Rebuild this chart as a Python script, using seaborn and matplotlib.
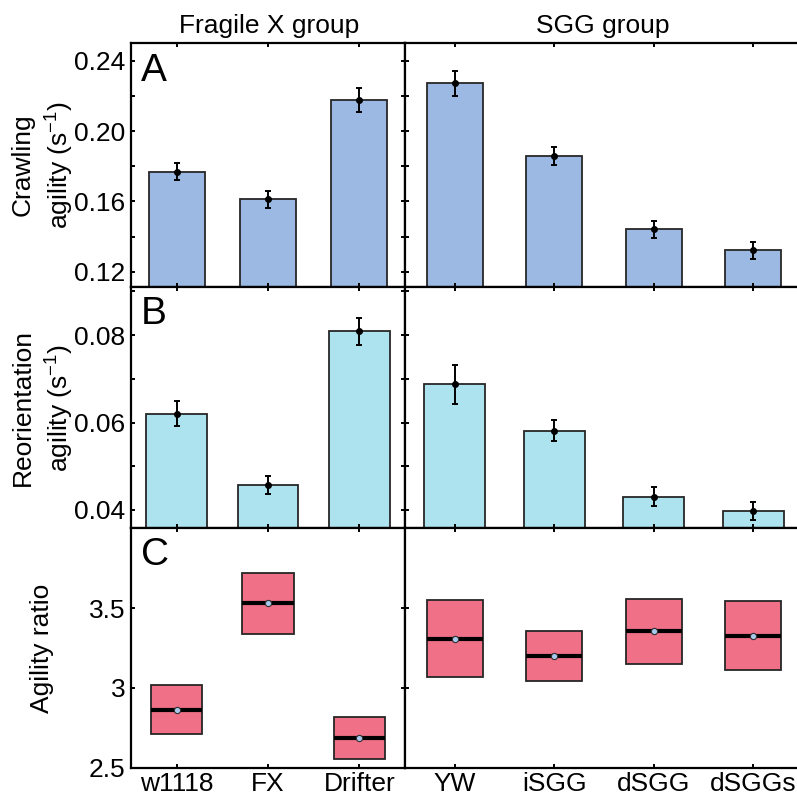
import matplotlib
matplotlib.use("Agg")
import matplotlib.pyplot as plt
import seaborn as sns
from matplotlib.ticker import MultipleLocator, FixedLocator, FormatStrFormatter, FuncFormatter

# ------------------------ data ------------------------
fx_groups = ["w1118", "FX", "Drifter"]
sgg_groups = ["YW", "iSGG", "dSGG", "dSGGs"]

crawl_fx = [0.1770, 0.1612, 0.2177]
crawl_fx_err = [0.0050, 0.0050, 0.0068]
crawl_sgg = [0.2272, 0.1858, 0.1441, 0.1322]
crawl_sgg_err = [0.0072, 0.0053, 0.0050, 0.0047]

reor_fx = [0.0620, 0.0457, 0.0809]
reor_fx_err = [0.0029, 0.0020, 0.0031]
reor_sgg = [0.0687, 0.0581, 0.0430, 0.0398]
reor_sgg_err = [0.0045, 0.0024, 0.0022, 0.0021]

ratio_fx_q1 = [2.709, 3.337, 2.557]
ratio_fx_med = [2.862, 3.531, 2.684]
ratio_fx_q3 = [3.016, 3.723, 2.816]
ratio_sgg_q1 = [3.069, 3.041, 3.148, 3.111]
ratio_sgg_med = [3.307, 3.201, 3.356, 3.327]
ratio_sgg_q3 = [3.548, 3.358, 3.560, 3.546]

# ------------------------ style ------------------------
plt.rcParams["font.family"] = ["Liberation Sans", "DejaVu Sans"]
FS = 19
COL_A = "#9bb9e3"
COL_B = "#ade2ef"
COL_C = "#f07087"
EDGE = "#262626"

fig = plt.figure(figsize=(7.97, 7.99), dpi=100)

L, M = 131 / 797, 405 / 797
WL = M - L
WR = (803 - 405) / 797
rows = [43, 287, 528.3, 767.7]
H = 799


def make_ax(col, row):
    top = 1 - rows[row] / H
    bot = 1 - rows[row + 1] / H
    if col == 0:
        return fig.add_axes([L, bot, WL, top - bot])
    return fig.add_axes([M, bot, WR, top - bot])


def style(ax, n, right_col, show_x):
    for s in ax.spines.values():
        s.set_linewidth(1.6)
        s.set_color("black")
    ax.tick_params(which="both", direction="in", top=True, right=not right_col,
                   left=True, bottom=True, length=3, width=1.4, color="black",
                   labelsize=FS, pad=4)
    ax.tick_params(axis="x", which="minor", bottom=False, top=False)
    if right_col:
        ax.spines["right"].set_visible(False)
        ax.set_xlim(-0.5, 3.5)
        ax.tick_params(axis="y", labelleft=False)
    else:
        ax.set_xlim(-0.5, 2.5)
    ax.set_xticks(range(n))
    if not show_x:
        ax.tick_params(axis="x", labelbottom=False)
    ax.set_xlabel("")
    ax.set_ylabel("")


def bar_panel(ax, groups, vals, errs, color, width):
    sns.barplot(x=groups, y=vals, color=color, width=width, edgecolor=EDGE,
                linewidth=1.3, errorbar=None, saturation=1, ax=ax)
    ax.errorbar(range(len(groups)), vals, yerr=errs, fmt="o", color="black",
                ms=4, elinewidth=1.4, capsize=2, capthick=1.4, zorder=5)


# row A
axA0 = make_ax(0, 0)
axA1 = make_ax(1, 0)
bar_panel(axA0, fx_groups, crawl_fx, crawl_fx_err, COL_A, 0.61)
bar_panel(axA1, sgg_groups, crawl_sgg, crawl_sgg_err, COL_A, 0.56)
for ax, n, rc in [(axA0, 3, False), (axA1, 4, True)]:
    style(ax, n, rc, False)
    ax.set_ylim(0.1113, 0.2502)
    ax.yaxis.set_major_locator(MultipleLocator(0.04))
    ax.yaxis.set_minor_locator(MultipleLocator(0.02))
    ax.yaxis.set_major_formatter(FormatStrFormatter("%.2f"))

# row B
axB0 = make_ax(0, 1)
axB1 = make_ax(1, 1)
bar_panel(axB0, fx_groups, reor_fx, reor_fx_err, COL_B, 0.665)
bar_panel(axB1, sgg_groups, reor_sgg, reor_sgg_err, COL_B, 0.61)
for ax, n, rc in [(axB0, 3, False), (axB1, 4, True)]:
    style(ax, n, rc, False)
    ax.set_ylim(0.0358, 0.091)
    ax.yaxis.set_major_locator(MultipleLocator(0.02))
    ax.yaxis.set_minor_locator(MultipleLocator(0.01))
    ax.yaxis.set_major_formatter(FormatStrFormatter("%.2f"))

# row C
axC0 = make_ax(0, 2)
axC1 = make_ax(1, 2)


def box_panel(ax, groups, q1, med, q3, width):
    stats = [dict(label=g, q1=a, med=m, q3=b, whislo=a, whishi=b, mean=m, fliers=[])
             for g, a, m, b in zip(groups, q1, med, q3)]
    ax.bxp(stats, positions=range(len(groups)), widths=width, patch_artist=True,
           showfliers=False, showcaps=False, showmeans=True,
           boxprops=dict(facecolor=COL_C, edgecolor=EDGE, linewidth=1.3),
           medianprops=dict(color="black", linewidth=3),
           whiskerprops=dict(linewidth=0),
           meanprops=dict(marker="o", markerfacecolor="#a9c9ec",
                          markeredgecolor="#303030", markersize=4.5,
                          markeredgewidth=0.8))
    ax.set_xticks(range(len(groups)), groups)


box_panel(axC0, fx_groups, ratio_fx_q1, ratio_fx_med, ratio_fx_q3, 0.56)
box_panel(axC1, sgg_groups, ratio_sgg_q1, ratio_sgg_med, ratio_sgg_q3, 0.56)
for ax, n, rc in [(axC0, 3, False), (axC1, 4, True)]:
    style(ax, n, rc, True)
    ax.set_ylim(2.5, 4.0)
    ax.yaxis.set_major_locator(FixedLocator([2.5, 3.0, 3.5]))
    ax.yaxis.set_major_formatter(FuncFormatter(lambda v, p: "%g" % v))
    ax.tick_params(axis="x", pad=3)

# labels
axA0.set_ylabel("Crawling\nagility (s$^{\\mathregular{-1}}$)", fontsize=FS, linespacing=1.3)
axB0.set_ylabel("Reorientation\nagility (s$^{\\mathregular{-1}}$)", fontsize=FS, linespacing=1.3)
axC0.set_ylabel("Agility ratio", fontsize=FS)
axA0.yaxis.set_label_coords(-0.204, 0.5)
axB0.yaxis.set_label_coords(-0.204, 0.5)
axC0.yaxis.set_label_coords(-0.28, 0.5)

for ax, letter in [(axA0, "A"), (axB0, "B"), (axC0, "C")]:
    ax.text(0.035, 0.845, letter, transform=ax.transAxes, fontsize=28,
            va="baseline", ha="left")

fig.text(269 / 797, 1 - 33 / 799, "Fragile X group", fontsize=FS, ha="center", va="baseline")
fig.text(603 / 797, 1 - 33 / 799, "SGG group", fontsize=FS, ha="center", va="baseline")

fig.savefig("out.png", dpi=100)
